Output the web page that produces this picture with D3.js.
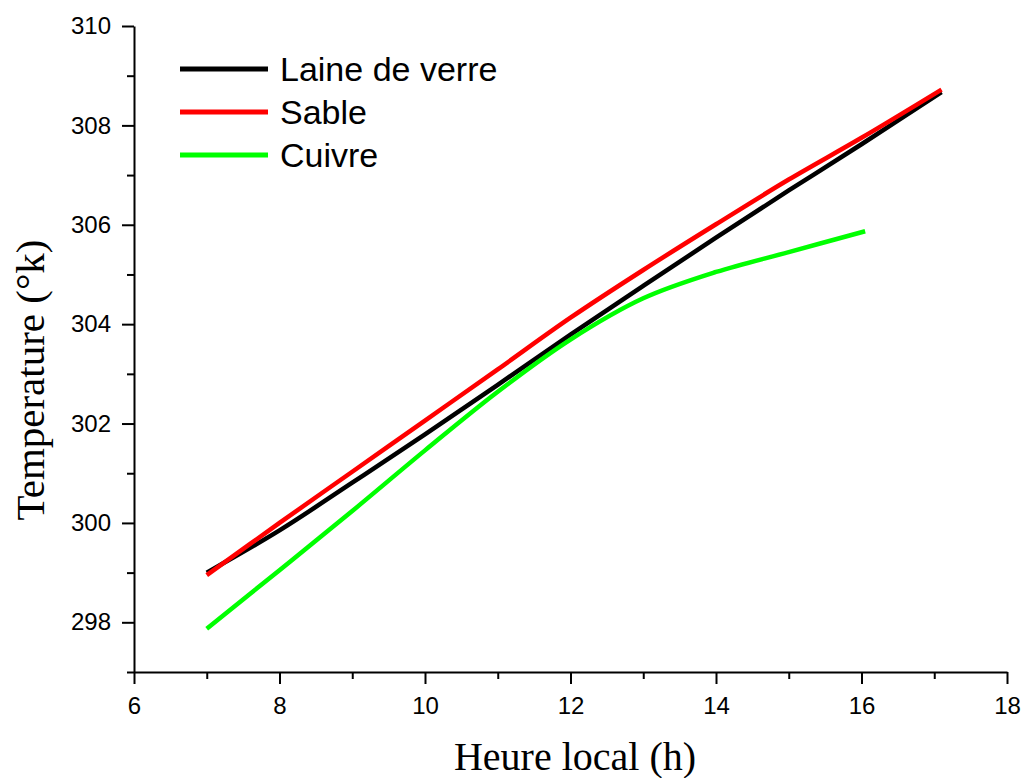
<!DOCTYPE html>
<html>
<head>
<meta charset="utf-8">
<script src="https://cdn.jsdelivr.net/npm/d3@7"></script>
<style>
  body { margin: 0; background: #fff; }
  svg { display: block; }
</style>
</head>
<body>
<svg id="chart" width="1031" height="778"></svg>
<script>
(function () {
// values
var hours = [7, 8, 9, 10, 11, 12, 13, 14, 15, 16, 17.1];
var laineDeVerre = [299.0, 299.85, 300.81, 301.78, 302.78, 303.79, 304.77, 305.74, 306.69, 307.62, 308.67];
var sable = [298.95, 300.0, 301.03, 302.06, 303.09, 304.13, 305.09, 306.01, 306.91, 307.75, 308.72];
var cuivreHours = [7, 8, 9, 10, 11, 12, 13, 14, 15, 16.05];
var cuivre = [297.87, 299.05, 300.24, 301.46, 302.64, 303.69, 304.52, 305.05, 305.45, 305.87];

var xTicks = [6, 8, 10, 12, 14, 16, 18];
var xMinor = [7, 9, 11, 13, 15, 17];
var yTicks = [298, 300, 302, 304, 306, 308, 310];
var yMinor = [297, 299, 301, 303, 305, 307, 309];

var seriesNames = ["Laine de verre", "Sable", "Cuivre"];
var seriesColors = ["#000000", "#ff0000", "#00ff00"];

var series = [
  { name: seriesNames[0], color: seriesColors[0], values: hours.map(function (h, i) { return [h, laineDeVerre[i]] }) },
  { name: seriesNames[1], color: seriesColors[1], values: hours.map(function (h, i) { return [h, sable[i]] }) },
  { name: seriesNames[2], color: seriesColors[2], values: cuivreHours.map(function (h, i) { return [h, cuivre[i]] }) }
];

var svg = d3.select("#chart");
var left = 134, right = 1007, top = 26, bottom = 672;

var x = d3.scaleLinear().domain([6, 18]).range([left, right]);
var y = d3.scaleLinear().domain([297, 310]).range([bottom, top]);

// minor ticks first, then the major axes on top
svg.append("g")
  .attr("transform", "translate(0," + bottom + ")")
  .call(d3.axisBottom(x).tickValues(xMinor).tickSize(7).tickFormat(""))
  .call(function (g) { g.select(".domain").remove() });

svg.append("g")
  .attr("transform", "translate(" + left + ",0)")
  .call(d3.axisLeft(y).tickValues(yMinor).tickSize(7).tickFormat(""))
  .call(function (g) { g.select(".domain").remove() });

svg.append("g")
  .attr("transform", "translate(0," + bottom + ")")
  .call(d3.axisBottom(x).tickValues(xTicks).tickSize(12).tickSizeOuter(0).tickPadding(13).tickFormat(d3.format("d")));

svg.append("g")
  .attr("transform", "translate(" + left + ",0)")
  .call(d3.axisLeft(y).tickValues(yTicks).tickSize(12).tickSizeOuter(0).tickPadding(11).tickFormat(d3.format("d")));

svg.selectAll(".tick line").attr("stroke", "#000").attr("stroke-width", 2);
svg.selectAll(".domain").attr("stroke", "#000").attr("stroke-width", 2);
svg.selectAll(".tick text")
  .attr("fill", "#000")
  .style("font-family", "Liberation Sans, Arial, sans-serif")
  .style("font-size", "24px");

// lines
var line = d3.line()
  .x(function (d) { return x(d[0]) })
  .y(function (d) { return y(d[1]) })
  .curve(d3.curveCatmullRom.alpha(0.5));

svg.selectAll("path.series")
  .data(series)
  .enter()
  .append("path")
  .attr("class", "series")
  .attr("d", function (d) { return line(d.values) })
  .attr("fill", "none")
  .attr("stroke", function (d) { return d.color })
  .attr("stroke-width", 4.5);

// legend
var legend = svg.append("g");
legend.selectAll("line")
  .data(series)
  .enter()
  .append("line")
  .attr("x1", 180)
  .attr("x2", 268)
  .attr("y1", function (d, i) { return 69 + i * 43 })
  .attr("y2", function (d, i) { return 69 + i * 43 })
  .attr("stroke", function (d) { return d.color })
  .attr("stroke-width", 5);

legend.selectAll("text")
  .data(series)
  .enter()
  .append("text")
  .attr("x", 280)
  .attr("y", function (d, i) { return 69 + i * 43 })
  .attr("dy", "0.36em")
  .style("font-family", "Liberation Sans, Arial, sans-serif")
  .style("font-size", "34px")
  .text(function (d) { return d.name });

// axis titles
svg.append("text")
  .attr("x", 575)
  .attr("y", 770)
  .attr("text-anchor", "middle")
  .style("font-family", "Liberation Serif, Times New Roman, serif")
  .style("font-size", "40px")
  .text("Heure local (h)");

svg.append("text")
  .attr("transform", "translate(44,380) rotate(-90)")
  .attr("text-anchor", "middle")
  .style("font-family", "Liberation Serif, Times New Roman, serif")
  .style("font-size", "41px")
  .text("Temperature (°k)");
})();
</script>
</body>
</html>
